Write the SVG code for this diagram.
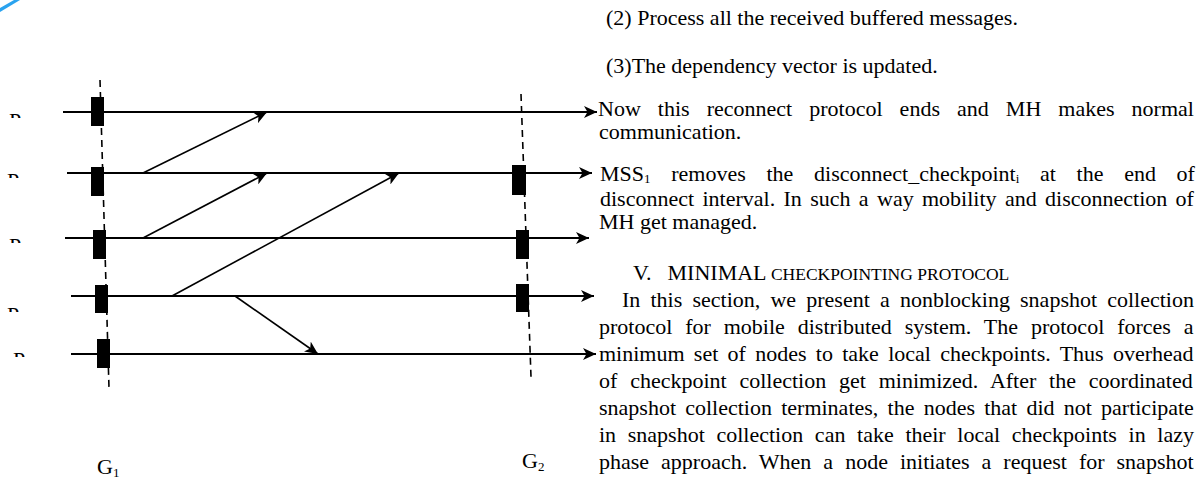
<svg xmlns="http://www.w3.org/2000/svg" width="1204" height="479" viewBox="0 0 1204 479">
  <style>
    .proc { stroke: #000; stroke-width: 1.8; fill: none; }
    .msg { stroke: #000; stroke-width: 1.6; fill: none; }
    .ckpt { fill: #000; }
    .cut { stroke: #000; stroke-width: 1.6; stroke-dasharray: 7 5; fill: none; }
    .txt { font-family: "Liberation Serif", "Times New Roman", serif; font-size: 22px; fill: #000; }
    .sub { font-size: 13px; }
    .sc { font-size: 17.5px; }
  </style>
  <defs>
    <marker id="head" markerUnits="userSpaceOnUse" markerWidth="14" markerHeight="12" refX="13" refY="6" orient="auto">
      <path d="M0,0 L13,6 L0,12 L3.5,6 z" fill="#000"/>
    </marker>
    <clipPath id="labelClip">
      <rect x="0" y="112" width="40" height="6"/>
      <rect x="0" y="173" width="40" height="5"/>
      <rect x="0" y="238" width="40" height="5"/>
      <rect x="0" y="307" width="40" height="5"/>
      <rect x="0" y="352" width="40" height="5"/>
    </clipPath>
  </defs>
  <rect width="1204" height="479" fill="#fff"/>

  <!-- corner mark -->
  <polygon points="0,8 14,0 20,0 0,12" fill="#2aa3ef"/>

  <!-- process labels (lower part masked) -->
  <g id="process-labels" class="txt" clip-path="url(#labelClip)">
    <text x="9" y="127.5">P</text>
    <text x="7" y="188">P</text>
    <text x="9" y="253">P</text>
    <text x="7" y="322">P</text>
    <text x="13" y="367">P</text>
  </g>

  <!-- process timelines with checkpoints -->
  <g id="process-1">
    <line class="proc" x1="63" y1="112" x2="597" y2="112" marker-end="url(#head)"/>
    <rect class="ckpt" x="91" y="97" width="13" height="29"/>
  </g>
  <g id="process-2">
    <line class="proc" x1="67" y1="173" x2="592" y2="173" marker-end="url(#head)"/>
    <rect class="ckpt" x="91" y="167" width="13" height="29"/>
    <rect class="ckpt" x="512" y="165" width="14" height="30"/>
  </g>
  <g id="process-3">
    <line class="proc" x1="65" y1="238" x2="589" y2="238" marker-end="url(#head)"/>
    <rect class="ckpt" x="93" y="230" width="13" height="29"/>
    <rect class="ckpt" x="516" y="230" width="13" height="29"/>
  </g>
  <g id="process-4">
    <line class="proc" x1="71" y1="296" x2="594" y2="296" marker-end="url(#head)"/>
    <rect class="ckpt" x="95" y="285" width="13" height="28"/>
    <rect class="ckpt" x="516" y="284" width="13" height="28"/>
  </g>
  <g id="process-5">
    <line class="proc" x1="71" y1="354" x2="596" y2="354" marker-end="url(#head)"/>
    <rect class="ckpt" x="97" y="339" width="13" height="29"/>
  </g>

  <!-- global checkpoint cuts -->
  <g id="cut-G1">
    <line class="cut" x1="100" y1="80" x2="109" y2="388"/>
    <text class="txt" x="97" y="474">G<tspan class="sub" dy="3">1</tspan></text>
  </g>
  <g id="cut-G2">
    <line class="cut" x1="521" y1="94" x2="531" y2="377"/>
    <text class="txt" x="522" y="468">G<tspan class="sub" dy="3">2</tspan></text>
  </g>

  <!-- messages -->
  <g id="messages">
    <line class="msg" x1="143" y1="173" x2="267" y2="112" marker-end="url(#head)"/>
    <line class="msg" x1="143" y1="238" x2="267" y2="173" marker-end="url(#head)"/>
    <line class="msg" x1="172" y1="296" x2="399" y2="173" marker-end="url(#head)"/>
    <line class="msg" x1="235" y1="296" x2="318" y2="354" marker-end="url(#head)"/>
  </g>

  <!-- body text column -->
  <g id="body-text" class="txt">
    <text x="606" y="25">(2) Process all the received buffered messages.</text>
    <text x="606" y="73">(3)The dependency vector is updated.</text>
    <text x="598" y="116" word-spacing="11.56">Now this reconnect protocol ends and MH makes normal</text>
    <text x="599" y="139">communication.</text>
    <text x="600" y="181" word-spacing="15.2">MSS<tspan class="sub" dy="2">1</tspan><tspan dy="-2"> removes the disconnect_checkpoint</tspan><tspan class="sub" dy="2">i</tspan><tspan dy="-2"> at the end of</tspan></text>
    <text x="600" y="206" word-spacing="2.86">disconnect interval. In such a way mobility and disconnection of</text>
    <text x="599" y="229">MH get managed.</text>
    <text x="633" y="280">V.<tspan dx="16">MINIMAL</tspan><tspan class="sc"> CHECKPOINTING  PROTOCOL</tspan></text>
    <text x="622" y="307" word-spacing="4.67">In this section, we present a nonblocking snapshot collection</text>
    <text x="599" y="334" word-spacing="7.39">protocol for mobile distributed system. The protocol forces a</text>
    <text x="599" y="361" word-spacing="3.79">minimum set of nodes to take local checkpoints. Thus overhead</text>
    <text x="599" y="388" word-spacing="7.31">of checkpoint collection get minimized. After the coordinated</text>
    <text x="599" y="415" word-spacing="3.72">snapshot collection terminates, the nodes that did not participate</text>
    <text x="599" y="442" word-spacing="6.17">in snapshot collection can take their local checkpoints in lazy</text>
    <text x="599" y="469" word-spacing="6.51">phase approach. When a node initiates a request for snapshot</text>
  </g>
</svg>
